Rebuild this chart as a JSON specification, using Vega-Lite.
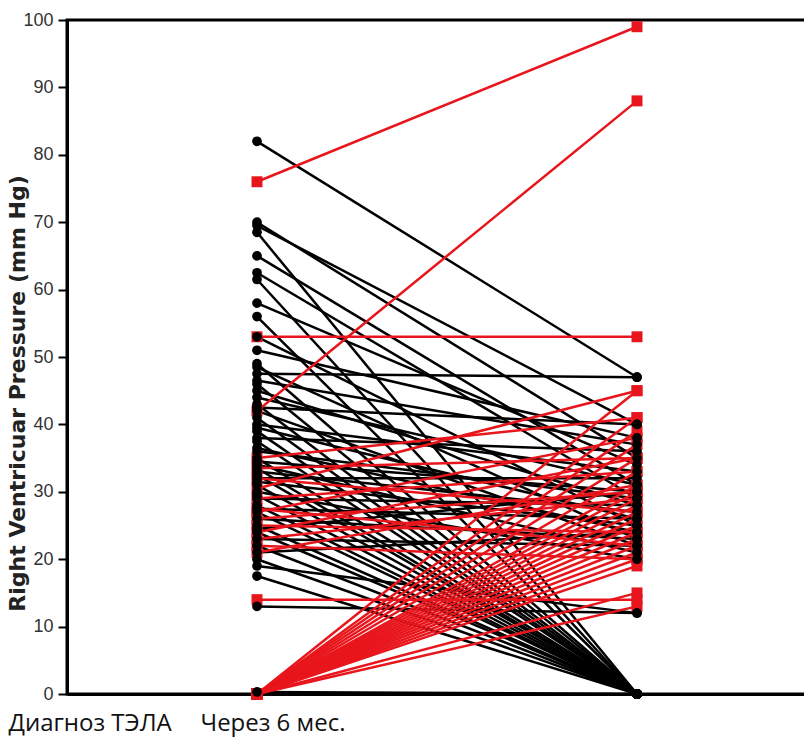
{
  "$schema": "https://vega.github.io/schema/vega-lite/v6.json",
  "autosize": "none",
  "width": 740,
  "height": 674,
  "padding": {"left": 67, "top": 20, "right": 0, "bottom": 54},
  "background": "#ffffff",
  "config": {
    "view": {"stroke": "#000000", "strokeWidth": 3},
    "font": "Liberation Sans"
  },
  "data": {
    "values": [
      {"id": 1, "g": "black", "before": 82, "after": 47},
      {"id": 2, "g": "black", "before": 70, "after": 35},
      {"id": 3, "g": "black", "before": 69.5, "after": 40},
      {"id": 4, "g": "black", "before": 68.5, "after": 0},
      {"id": 5, "g": "black", "before": 65, "after": 31},
      {"id": 6, "g": "black", "before": 62.5, "after": 29},
      {"id": 7, "g": "black", "before": 61.5, "after": 0},
      {"id": 8, "g": "black", "before": 58, "after": 34},
      {"id": 9, "g": "black", "before": 56, "after": 0},
      {"id": 10, "g": "black", "before": 53, "after": 25},
      {"id": 11, "g": "black", "before": 51, "after": 38},
      {"id": 12, "g": "black", "before": 49, "after": 0},
      {"id": 13, "g": "black", "before": 48.5, "after": 23},
      {"id": 14, "g": "black", "before": 47.5, "after": 47},
      {"id": 15, "g": "black", "before": 46.5, "after": 37},
      {"id": 16, "g": "black", "before": 46, "after": 0},
      {"id": 17, "g": "black", "before": 45, "after": 28},
      {"id": 18, "g": "black", "before": 44, "after": 31},
      {"id": 19, "g": "black", "before": 43, "after": 0},
      {"id": 20, "g": "black", "before": 42.5, "after": 40},
      {"id": 21, "g": "black", "before": 42, "after": 22},
      {"id": 22, "g": "black", "before": 41, "after": 0},
      {"id": 23, "g": "black", "before": 40, "after": 33},
      {"id": 24, "g": "black", "before": 39.5, "after": 26},
      {"id": 25, "g": "black", "before": 39, "after": 0},
      {"id": 26, "g": "black", "before": 38, "after": 36},
      {"id": 27, "g": "black", "before": 37.5, "after": 0},
      {"id": 28, "g": "black", "before": 36.5, "after": 24},
      {"id": 29, "g": "black", "before": 36, "after": 29},
      {"id": 30, "g": "black", "before": 35, "after": 0},
      {"id": 31, "g": "black", "before": 34.5, "after": 30},
      {"id": 32, "g": "black", "before": 34, "after": 21},
      {"id": 33, "g": "black", "before": 33.5, "after": 0},
      {"id": 34, "g": "black", "before": 33, "after": 27},
      {"id": 35, "g": "black", "before": 32.5, "after": 0},
      {"id": 36, "g": "black", "before": 32, "after": 32},
      {"id": 37, "g": "black", "before": 31.5, "after": 25},
      {"id": 38, "g": "black", "before": 31, "after": 0},
      {"id": 39, "g": "black", "before": 30, "after": 20},
      {"id": 40, "g": "black", "before": 29.5, "after": 0},
      {"id": 41, "g": "black", "before": 29, "after": 28},
      {"id": 42, "g": "black", "before": 28, "after": 0},
      {"id": 43, "g": "black", "before": 27.5, "after": 26},
      {"id": 44, "g": "black", "before": 27, "after": 0},
      {"id": 45, "g": "black", "before": 26, "after": 23},
      {"id": 46, "g": "black", "before": 25, "after": 0},
      {"id": 47, "g": "black", "before": 24.5, "after": 30},
      {"id": 48, "g": "black", "before": 24, "after": 0},
      {"id": 49, "g": "black", "before": 23, "after": 22},
      {"id": 50, "g": "black", "before": 22, "after": 0},
      {"id": 51, "g": "black", "before": 21, "after": 24},
      {"id": 52, "g": "black", "before": 20, "after": 0},
      {"id": 53, "g": "black", "before": 19, "after": 12},
      {"id": 54, "g": "black", "before": 17.5, "after": 0},
      {"id": 55, "g": "black", "before": 13, "after": 12},
      {"id": 56, "g": "black", "before": 0.3, "after": 0},
      {"id": 101, "g": "red", "before": 76, "after": 99},
      {"id": 102, "g": "red", "before": 42, "after": 88},
      {"id": 103, "g": "red", "before": 53, "after": 53},
      {"id": 104, "g": "red", "before": 14, "after": 14},
      {"id": 105, "g": "red", "before": 0, "after": 45},
      {"id": 106, "g": "red", "before": 0, "after": 41},
      {"id": 107, "g": "red", "before": 0, "after": 39},
      {"id": 108, "g": "red", "before": 0, "after": 37},
      {"id": 109, "g": "red", "before": 0, "after": 35},
      {"id": 110, "g": "red", "before": 0, "after": 33},
      {"id": 111, "g": "red", "before": 0, "after": 31},
      {"id": 112, "g": "red", "before": 0, "after": 30},
      {"id": 113, "g": "red", "before": 0, "after": 29},
      {"id": 114, "g": "red", "before": 0, "after": 28},
      {"id": 115, "g": "red", "before": 0, "after": 27},
      {"id": 116, "g": "red", "before": 0, "after": 26},
      {"id": 117, "g": "red", "before": 0, "after": 25},
      {"id": 118, "g": "red", "before": 0, "after": 24},
      {"id": 119, "g": "red", "before": 0, "after": 23},
      {"id": 120, "g": "red", "before": 0, "after": 22},
      {"id": 121, "g": "red", "before": 0, "after": 21},
      {"id": 122, "g": "red", "before": 0, "after": 20},
      {"id": 123, "g": "red", "before": 0, "after": 19},
      {"id": 124, "g": "red", "before": 0, "after": 15},
      {"id": 125, "g": "red", "before": 0, "after": 13},
      {"id": 126, "g": "red", "before": 35, "after": 41},
      {"id": 127, "g": "red", "before": 33.5, "after": 35},
      {"id": 128, "g": "red", "before": 32, "after": 27},
      {"id": 129, "g": "red", "before": 30.5, "after": 45},
      {"id": 130, "g": "red", "before": 29, "after": 33},
      {"id": 131, "g": "red", "before": 27.5, "after": 22},
      {"id": 132, "g": "red", "before": 27, "after": 38},
      {"id": 133, "g": "red", "before": 26, "after": 30},
      {"id": 134, "g": "red", "before": 25, "after": 24},
      {"id": 135, "g": "red", "before": 24, "after": 35},
      {"id": 136, "g": "red", "before": 23, "after": 29},
      {"id": 137, "g": "red", "before": 22, "after": 20},
      {"id": 138, "g": "red", "before": 21, "after": 31}
    ]
  },
  "transform": [
    {"fold": ["before", "after"], "as": ["when", "pressure"]}
  ],
  "encoding": {
    "x": {
      "field": "when",
      "type": "ordinal",
      "sort": ["before", "after"],
      "scale": {"type": "point", "padding": 0.473684, "align": 0.527778},
      "axis": {
        "title": null,
        "domain": true,
        "domainColor": "#000000",
        "domainWidth": 3,
        "ticks": false,
        "labelAngle": 0,
        "labelExpr": "datum.value == 'before' ? 'Диагноз ТЭЛА' : 'Через 6 мес.'",
        "labelFont": "Open Sans",
        "labelFontSize": 24,
        "labelColor": "#111111",
        "labelAlign": "left",
        "labelBaseline": "top",
        "labelPadding": 17,
        "labelOverlap": false,
        "labelBound": false,
        "labelOffset": {"condition": {"test": "datum.value == 'before'", "value": -249}, "value": -437}
      }
    },
    "y": {
      "field": "pressure",
      "type": "quantitative",
      "scale": {"domain": [0, 100], "nice": false},
      "axis": {
        "title": "Right Ventricuar Pressure (mm Hg)",
        "titleFont": "DejaVu Sans",
        "titleFontSize": 22,
        "titleFontWeight": "bold",
        "titleColor": "#222222",
        "titleX": -38,
        "titleY": 373,
        "values": [0, 10, 20, 30, 40, 50, 60, 70, 80, 90, 100],
        "grid": false,
        "domainColor": "#000000",
        "domainWidth": 3,
        "tickColor": "#000000",
        "tickWidth": 2,
        "tickSize": 9,
        "labelFontSize": 18,
        "labelColor": "#333333",
        "labelPadding": 5
      }
    },
    "color": {
      "field": "g",
      "type": "nominal",
      "scale": {"domain": ["black", "red"], "range": ["#000000", "#e8161c"]},
      "legend": null
    },
    "detail": {"field": "id", "type": "nominal"}
  },
  "layer": [
    {"mark": {"type": "line", "strokeWidth": 2.5}},
    {
      "mark": {"type": "point", "filled": true, "opacity": 1},
      "encoding": {
        "order": {"field": "g", "sort": "descending"},
        "shape": {
          "field": "g",
          "type": "nominal",
          "scale": {"domain": ["black", "red"], "range": ["circle", "square"]},
          "legend": null
        },
        "size": {
          "field": "g",
          "type": "nominal",
          "scale": {"domain": ["black", "red"], "range": [95, 120]},
          "legend": null
        }
      }
    }
  ]
}
